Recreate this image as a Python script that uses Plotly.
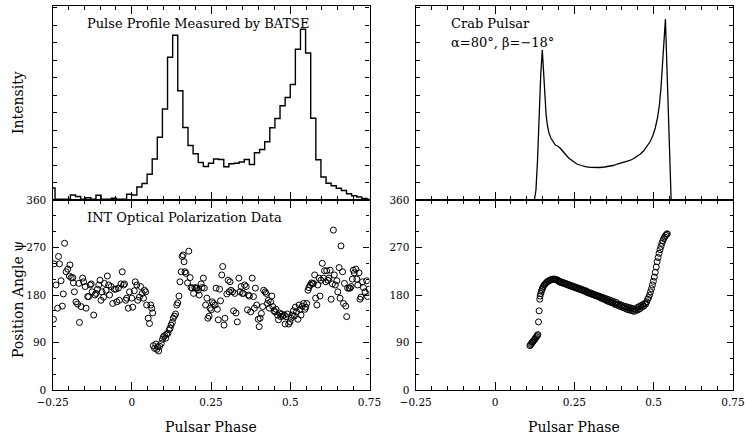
import numpy as np
import plotly.graph_objects as go

# ---------------- data ----------------
# BATSE pulse profile: 62 bins per rotation, bin k spans [k/62, (k+1)/62]
hist_bin_index = list(range(-16, 47))
hist_counts = [12, 0.7, 0.7, 0.7, 5, 3.5, 0.7, 2.3, 0.7, 4.7, 0.7, 0.7, 1.7, 0.7, 0.7, 5.7,
               5, 13, 16.5, 25.7, 41, 62.7, 91, 142.7, 164.7, 109.3, 72.5, 54.5, 46.3, 37.5,
               33.5, 36.7, 41, 40.5, 33.3, 36.3, 36.7, 38, 40.5, 35.5, 47.3, 50.5, 58.3, 72.3,
               81.5, 94.2, 102.5, 115.5, 150.8, 170.7, 147, 81.7, 40.3, 23, 16.7, 14.2, 11.7,
               9.5, 6.2, 4.3, 3, 1.5, 0.7]
hist_phase = [(k + 0.5) / 62 for k in hist_bin_index]

# INT optical polarization data
obs_phase = [-0.247, -0.245, -0.239, -0.234, -0.231, -0.228, -0.223, -0.219, -0.216, -0.212,
             -0.207, -0.202, -0.197, -0.195, -0.191, -0.186, -0.184, -0.181, -0.176, -0.171,
             -0.167, -0.165, -0.160, -0.155, -0.152, -0.147, -0.144, -0.139, -0.136, -0.131,
             -0.128, -0.125, -0.120, -0.116, -0.113, -0.108, -0.104, -0.100, -0.097, -0.094,
             -0.089, -0.086, -0.081, -0.077, -0.073, -0.070, -0.065, -0.060, -0.055, -0.050,
             -0.047, -0.042, -0.039, -0.034, -0.030, -0.026, -0.023, -0.019, -0.016, -0.011,
             -0.007, 0.000, 0.003, 0.008, 0.011, 0.016, 0.019, 0.024, 0.028, 0.033,
             0.037, 0.040, 0.044, 0.047, 0.052, 0.056, 0.060, 0.063, 0.066,
             0.068, 0.072, 0.076, 0.079, 0.082, 0.085, 0.088, 0.093, 0.097, 0.100,
             0.104, 0.107, 0.110, 0.114, 0.118, 0.121, 0.124, 0.128, 0.131, 0.135,
             0.138, 0.142, 0.145, 0.149, 0.152, 0.156, 0.159, 0.162, 0.165, 0.168,
             0.171, 0.176, 0.180, 0.184, 0.187, 0.191, 0.195, 0.199, 0.203, 0.206,
             0.210, 0.213, 0.219, 0.222, 0.226, 0.229, 0.233, 0.237, 0.240, 0.244,
             0.247, 0.251, 0.254, 0.258, 0.263, 0.266, 0.270, 0.273, 0.277, 0.280,
             0.284, 0.287, 0.291, 0.294, 0.300, 0.304, 0.307, 0.310, 0.313, 0.318,
             0.321, 0.325, 0.329, 0.333, 0.338, 0.342, 0.345, 0.349, 0.352, 0.356,
             0.361, 0.365, 0.368, 0.371, 0.375, 0.380, 0.384, 0.387, 0.390, 0.394,
             0.399, 0.402, 0.405, 0.409, 0.413, 0.416, 0.421, 0.424, 0.428, 0.431,
             0.434, 0.438, 0.442, 0.445, 0.449, 0.452, 0.455, 0.460, 0.463, 0.466,
             0.470, 0.473, 0.476, 0.481, 0.484, 0.487, 0.491, 0.495, 0.499, 0.503,
             0.506, 0.510, 0.513, 0.516, 0.520, 0.524, 0.528, 0.531, 0.534, 0.538,
             0.542, 0.546, 0.549, 0.552, 0.556, 0.559, 0.563, 0.567, 0.570, 0.573,
             0.577, 0.580, 0.584, 0.587, 0.591, 0.594, 0.597, 0.601, 0.605, 0.608,
             0.612, 0.615, 0.619, 0.622, 0.626, 0.629, 0.633, 0.636, 0.639, 0.642,
             0.647, 0.650, 0.654, 0.657, 0.660, 0.665, 0.668, 0.671, 0.675, 0.678,
             0.681, 0.686, 0.689, 0.692, 0.696, 0.699, 0.702, 0.707, 0.710, 0.713,
             0.717, 0.720, 0.723, 0.728, 0.731, 0.736, 0.741, 0.744, 0.748]
obs_angle = [134, 239, 199, 155, 253, 239, 207, 159, 182, 278,
             224, 229, 216, 237, 213, 213, 203, 186, 167, 163,
             202, 128, 158, 212, 205, 196, 155, 177, 177, 199,
             201, 186, 142, 180, 183, 191, 199, 208, 170, 186,
             176, 202, 189, 216, 199, 180, 196, 164, 191, 191,
             167, 193, 170, 201, 224, 199, 201, 170, 174, 155,
             186, 174, 157, 188, 205, 199, 170, 176, 196, 183,
             174, 189, 186, 161, 136, 126, 161, 155, 146,
             84, 79, 87, 77, 82, 74, 83, 88, 96, 101,
             103, 98, 106, 107, 114, 117, 123, 128, 136, 140,
             144, 161, 165, 178, 205, 224, 253, 256, 243, 224,
             221, 203, 263, 213, 194, 193, 183, 194, 193, 193,
             189, 180, 201, 194, 212, 193, 161, 174, 136, 140,
             155, 152, 167, 164, 161, 193, 153, 133, 191, 169,
             218, 234, 123, 136, 182, 208, 186, 205, 189, 186,
             150, 183, 146, 129, 212, 186, 196, 183, 183, 199,
             196, 152, 180, 178, 148, 212, 177, 155, 193, 161,
             134, 120, 136, 145, 158, 189, 186, 183, 164, 170,
             155, 167, 178, 158, 150, 148, 153, 142, 133, 146,
             139, 144, 140, 142, 125, 139, 144, 125, 129, 136,
             142, 150, 140, 157, 148, 134, 161, 153, 142, 159,
             164, 153, 157, 164, 189, 194, 199, 203, 201, 202,
             218, 174, 161, 199, 212, 178, 208, 240, 212, 226,
             205, 226, 208, 212, 227, 172, 201, 303, 218, 199,
             207, 186, 232, 174, 273, 224, 164, 202, 159, 139,
             193, 193, 193, 196, 210, 227, 222, 229, 210, 199,
             222, 172, 176, 205, 194, 186, 207, 177, 191]

# Model: Crab pulsar, alpha=80, beta=-18
model_phase = [0.124, 0.129, 0.134, 0.139, 0.144, 0.149, 0.152, 0.155, 0.158, 0.161,
               0.165, 0.170, 0.176, 0.183, 0.190, 0.197, 0.205, 0.213, 0.222, 0.232,
               0.245, 0.258, 0.272, 0.285, 0.300, 0.315, 0.330, 0.345, 0.360, 0.372,
               0.385, 0.400, 0.412, 0.425, 0.437, 0.448, 0.458, 0.468, 0.478, 0.488,
               0.497, 0.505, 0.512, 0.518, 0.523, 0.527, 0.531, 0.534, 0.537, 0.555]
model_intensity = [0, 10, 40, 85, 125, 150, 130, 112, 98, 85,
                   75, 67, 62, 58, 55, 54, 52, 49, 46, 42,
                   39, 36, 34.5, 33.3, 32.7, 32.5, 32.5, 33, 33.5, 34.5,
                   36, 37.5, 38.5, 39.5, 41.5, 43.5, 46, 49, 53.5, 58,
                   64, 72, 82, 95, 112, 130, 152, 170, 181, 0]

model_pa_phase = [0.110, 0.112, 0.115, 0.117, 0.119, 0.121, 0.124, 0.126, 0.128, 0.131, 0.133, 0.135,
                  0.137, 0.139,
                  0.141, 0.142, 0.144, 0.146, 0.148, 0.150, 0.152, 0.155, 0.158, 0.161, 0.164, 0.167,
                  0.170, 0.173, 0.176, 0.179, 0.182, 0.185, 0.188, 0.191, 0.194, 0.197, 0.200, 0.202,
                  0.204, 0.206, 0.208, 0.211, 0.214, 0.217, 0.220, 0.223, 0.226, 0.229, 0.232, 0.235,
                  0.238, 0.241, 0.244, 0.247, 0.250, 0.253, 0.256, 0.259, 0.262, 0.265, 0.268, 0.271,
                  0.274, 0.277, 0.280, 0.283, 0.286, 0.289, 0.292, 0.295, 0.298, 0.301, 0.304, 0.307,
                  0.310, 0.313, 0.316, 0.319, 0.322, 0.325, 0.328, 0.331, 0.334, 0.337, 0.340, 0.343,
                  0.346, 0.349, 0.352, 0.355, 0.358, 0.361, 0.364, 0.367, 0.370, 0.373, 0.376, 0.379,
                  0.382, 0.385, 0.388, 0.391, 0.394, 0.397, 0.400, 0.403, 0.406, 0.409, 0.412, 0.415,
                  0.418, 0.421, 0.424, 0.427, 0.430, 0.433, 0.436, 0.439, 0.442, 0.445, 0.448, 0.451,
                  0.454, 0.457, 0.460, 0.463, 0.466, 0.469, 0.472, 0.475, 0.478, 0.481, 0.484, 0.487,
                  0.490, 0.493, 0.496, 0.499, 0.502, 0.505, 0.508, 0.511, 0.514, 0.517, 0.520, 0.523,
                  0.526, 0.529, 0.532, 0.535, 0.538, 0.541, 0.543]
model_pa_angle = [84, 86, 88, 90, 91, 93, 95, 97, 99, 101, 103, 105,
                  129, 150,
                  172, 178, 183, 187, 190, 193, 196, 199, 201, 203, 205, 206,
                  207, 208, 209, 209, 210, 210, 210, 209, 209, 208, 207, 205,
                  206, 204, 205, 203, 204, 202, 201, 202, 200, 199, 200, 198,
                  197, 198, 196, 195, 196, 194, 193, 194, 192, 191, 192, 190,
                  189, 190, 188, 187, 188, 185, 186, 184, 183, 184, 182, 181,
                  182, 180, 179, 180, 178, 177, 178, 176, 174, 176, 173, 172,
                  174, 171, 169, 172, 168, 167, 170, 166, 165, 168, 164, 162,
                  166, 161, 163, 159, 162, 158, 160, 156, 159, 155, 158, 153,
                  157, 152, 156, 151, 155, 150, 154, 149, 153, 151, 156, 152,
                  158, 154, 160, 157, 162, 159, 164, 163, 167, 172, 175, 180,
                  186, 192, 199, 206, 214, 223, 233, 243, 251, 259, 266, 272,
                  278, 283, 287, 290, 293, 295, 296]

x_ticks = [-0.25, 0, 0.25, 0.5, 0.75]
x_tick_labels = ["\u22120.25", "0", "0.25", "0.5", "0.75"]
pa_ticks = [0, 90, 180, 270, 360]

# ---------------- figure ----------------
W, H = 745, 439
FONT = "DejaVu Serif"

def px(x):
    return x / W

def py(y):
    return 1 - y / H

xl = [px(52.5), px(369.5)]
xr = [px(415.7), px(733.0)]
ytop = [py(200), py(6)]
ybot = [py(390), py(200)]

fig = go.Figure()

line_style = dict(color="black", width=1.4)
mk = dict(symbol="circle-open", size=6, color="black", line=dict(width=1, color="black"))

fig.add_trace(go.Scatter(x=hist_phase, y=hist_counts, mode="lines", line_shape="hvh",
                         line=line_style, xaxis="x2", yaxis="y2", showlegend=False))
fig.add_trace(go.Scatter(x=obs_phase, y=obs_angle, mode="markers", marker=mk,
                         xaxis="x", yaxis="y", showlegend=False))
fig.add_trace(go.Scatter(x=model_phase, y=model_intensity, mode="lines",
                         line=dict(color="black", width=1.3), xaxis="x4", yaxis="y4",
                         showlegend=False))
fig.add_trace(go.Scatter(x=model_pa_phase, y=model_pa_angle, mode="markers", marker=mk,
                         xaxis="x3", yaxis="y3", showlegend=False))

tickfont = dict(family=FONT, size=10.5, color="black")

def xaxis(domain, anchor, labels):
    return dict(domain=domain, anchor=anchor, range=[-0.25, 0.75], tickmode="array",
                tickvals=x_ticks, ticktext=x_tick_labels, showticklabels=labels,
                ticks="inside", ticklen=8, tickwidth=1, tickcolor="black",
                minor=dict(dtick=0.05, tick0=0, ticks="inside", ticklen=4, tickwidth=1,
                           tickcolor="black"),
                showline=True, linecolor="black", linewidth=1.3, mirror="allticks",
                showgrid=False, zeroline=False, tickfont=tickfont, automargin=False,
                ticklabelstandoff=2)

def pa_axis(domain, anchor):
    return dict(domain=domain, anchor=anchor, range=[0, 360], tickmode="array",
                tickvals=pa_ticks, showticklabels=True,
                ticks="inside", ticklen=6, tickwidth=1, tickcolor="black",
                minor=dict(dtick=30, tick0=0, ticks="inside", ticklen=3, tickwidth=1,
                           tickcolor="black"),
                showline=True, linecolor="black", linewidth=1.3, mirror="allticks",
                showgrid=False, zeroline=False, tickfont=tickfont, automargin=False,
                ticklabelstandoff=3)

def int_axis(domain, anchor):
    return dict(domain=domain, anchor=anchor, range=[0, 194], dtick=17.5, tick0=0,
                showticklabels=False, ticks="inside", ticklen=4, tickwidth=1,
                tickcolor="black", showline=True, linecolor="black", linewidth=1.3,
                mirror="allticks", showgrid=False, zeroline=False, automargin=False)

fig.update_layout(
    width=W, height=H, margin=dict(l=0, r=0, t=0, b=0, autoexpand=False),
    paper_bgcolor="white", plot_bgcolor="white",
    xaxis=xaxis(xl, "y", True), yaxis=pa_axis(ybot, "x"),
    xaxis2=xaxis(xl, "y2", False), yaxis2=int_axis(ytop, "x2"),
    xaxis3=xaxis(xr, "y3", True), yaxis3=pa_axis(ybot, "x3"),
    xaxis4=xaxis(xr, "y4", False), yaxis4=int_axis(ytop, "x4"),
)

labfont = dict(family=FONT, size=14, color="black")
txtfont = dict(family=FONT, size=13, color="black")
ann = [
    dict(text="Intensity", x=px(18), y=py(103), textangle=-90, font=labfont),
    dict(text="Position Angle \u03c8", x=px(18), y=py(300), textangle=-90, font=labfont),
    dict(text="Pulsar Phase", x=px(211), y=py(427), font=labfont),
    dict(text="Pulsar Phase", x=px(574), y=py(427), font=labfont),
    dict(text="Pulse Profile Measured by BATSE", x=px(85), y=py(24), xanchor="left", font=txtfont),
    dict(text="INT Optical Polarization Data", x=px(85), y=py(218), xanchor="left", font=txtfont),
    dict(text="Crab Pulsar", x=px(449), y=py(24), xanchor="left", font=txtfont),
    dict(text="\u03b1=80\u00b0, \u03b2=\u221218\u00b0", x=px(449), y=py(42), xanchor="left", font=txtfont),
]
for a in ann:
    a.update(xref="paper", yref="paper", showarrow=False)
    a.setdefault("xanchor", "center")
    a.setdefault("yanchor", "middle")
fig.update_layout(annotations=ann)

fig.write_html("out.html", config={"displayModeBar": False},
               post_script="document.body.style.margin='0px';")
